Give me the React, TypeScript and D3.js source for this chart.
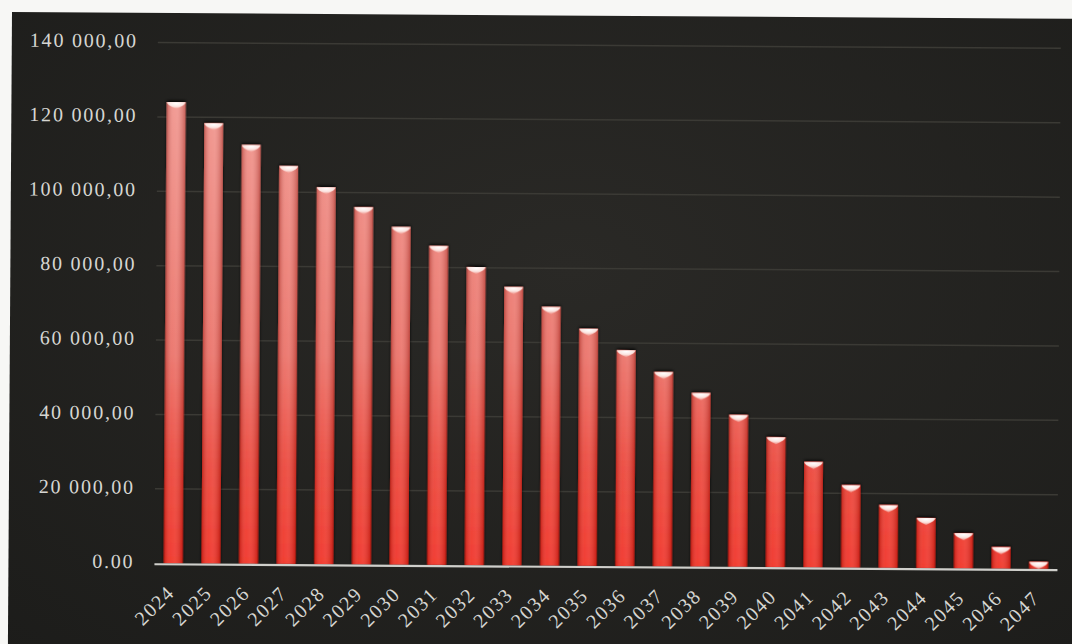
import React from "react";
import * as d3 from "d3";

// Remaining balance per year
const years = [
  "2024", "2025", "2026", "2027", "2028", "2029", "2030", "2031",
  "2032", "2033", "2034", "2035", "2036", "2037", "2038", "2039",
  "2040", "2041", "2042", "2043", "2044", "2045", "2046", "2047",
];
const balances = [
  124000, 118400, 112600, 107000, 101400, 96100, 90800, 85800,
  80200, 74900, 69600, 63800, 58100, 52300, 46700, 40900,
  35000, 28400, 22200, 16900, 13500, 9500, 5800, 1900,
];
const tickValues = [0, 20000, 40000, 60000, 80000, 100000, 120000, 140000];
const tickLabels = [
  "0.00", "20 000,00", "40 000,00", "60 000,00", "80 000,00",
  "100 000,00", "120 000,00", "140 000,00",
];

const W = 1072;
const H = 644;
const FONT = "'Liberation Serif', 'Times New Roman', serif";

export default function App() {
  const x = d3
    .scaleBand<string>()
    .domain(years)
    .range([158, 1061])
    .paddingInner(0.5)
    .paddingOuter(0.25);
  const y = d3.scaleLinear().domain([0, 140000]).range([562.3, 41.6]);
  const bw = x.bandwidth();
  const base = y(0);

  return (
    <svg
      width={W}
      height={H}
      style={{ position: "absolute", left: 0, top: 0, display: "block" }}
    >
      <defs>
        <radialGradient id="panelBg" cx="0.5" cy="0.35" r="0.75">
          <stop offset="0" stopColor="#2a2926" />
          <stop offset="1" stopColor="#1c1c1a" />
        </radialGradient>
        <linearGradient
          id="barFill"
          gradientUnits="userSpaceOnUse"
          x1="0"
          y1={y(125000)}
          x2="0"
          y2={base}
        >
          <stop offset="0" stopColor="#ef8e86" />
          <stop offset="0.55" stopColor="#e9685e" />
          <stop offset="0.78" stopColor="#ea3a2e" />
          <stop offset="1" stopColor="#ef2418" />
        </linearGradient>
        <linearGradient id="barSheen" x1="0" y1="0" x2="1" y2="0">
          <stop offset="0" stopColor="#7a0a04" stopOpacity="0.35" />
          <stop offset="0.35" stopColor="#ffffff" stopOpacity="0.12" />
          <stop offset="0.55" stopColor="#ffffff" stopOpacity="0.15" />
          <stop offset="1" stopColor="#7a0a04" stopOpacity="0.35" />
        </linearGradient>
        <radialGradient id="capFill" cx="0.5" cy="0.2" r="0.7">
          <stop offset="0" stopColor="#ffffff" />
          <stop offset="0.6" stopColor="#fbe3df" />
          <stop offset="1" stopColor="#f2a49c" />
        </radialGradient>
        <filter id="barShadow" x="-50%" y="-20%" width="200%" height="140%">
          <feDropShadow dx="0" dy="-1.5" stdDeviation="1.8" floodColor="#000" floodOpacity="0.9" />
        </filter>
        <filter id="soft" x="-20%" y="-20%" width="140%" height="140%">
          <feGaussianBlur stdDeviation="0.6" />
        </filter>
      </defs>

      <rect x={0} y={0} width={W} height={H} fill="#f7f7f5" />

      <g transform="rotate(0.37 12 12)">
        <rect x={12} y={12} width={1120} height={720} fill="url(#panelBg)" />

        {/* horizontal gridlines */}
        {tickValues.slice(1).map((v) => (
          <line
            key={"g" + v}
            x1={158}
            x2={1061}
            y1={y(v)}
            y2={y(v)}
            stroke="#3b3a35"
            strokeWidth={1.5}
          />
        ))}

        {/* y tick labels */}
        {tickValues.map((v, i) => (
          <text
            key={"t" + v}
            x={138}
            y={y(v) + 5}
            textAnchor="end"
            fontFamily={FONT}
            fontSize={20}
            letterSpacing={1.8}
            fill="#d6d6d2"
          >
            {tickLabels[i]}
          </text>
        ))}

        {/* bars */}
        {years.map((yr, i) => {
          const x0 = x(yr)!;
          const top = y(balances[i]);
          const h = base - top;
          return (
            <g key={yr}>
              <rect
                x={x0}
                y={top}
                width={bw}
                height={h}
                fill="url(#barFill)"
                filter="url(#barShadow)"
              />
              <rect x={x0} y={top} width={bw} height={h} fill="url(#barSheen)" />
              <path
                d={`M${x0},${top} L${x0 + bw},${top} Q${x0 + bw},${top + 3} ${x0 + bw / 2},${top + Math.min(7, h)} Q${x0},${top + 3} ${x0},${top} Z`}
                fill="url(#capFill)"
                filter="url(#soft)"
              />
            </g>
          );
        })}

        {/* baseline */}
        <line x1={158} x2={1061} y1={base + 1} y2={base + 1} stroke="#cfcfcb" strokeWidth={2.2} />

        {/* x tick labels */}
        {years.map((yr) => {
          const cx = x(yr)! + bw / 2 + 2.7;
          const cy = base + 30.5;
          return (
            <text
              key={"x" + yr}
              x={cx}
              y={cy}
              transform={`rotate(-45 ${cx} ${cy})`}
              textAnchor="end"
              fontFamily={FONT}
              fontSize={20}
              letterSpacing={1.6}
              fill="#d6d6d2"
            >
              {yr}
            </text>
          );
        })}
      </g>
    </svg>
  );
}
